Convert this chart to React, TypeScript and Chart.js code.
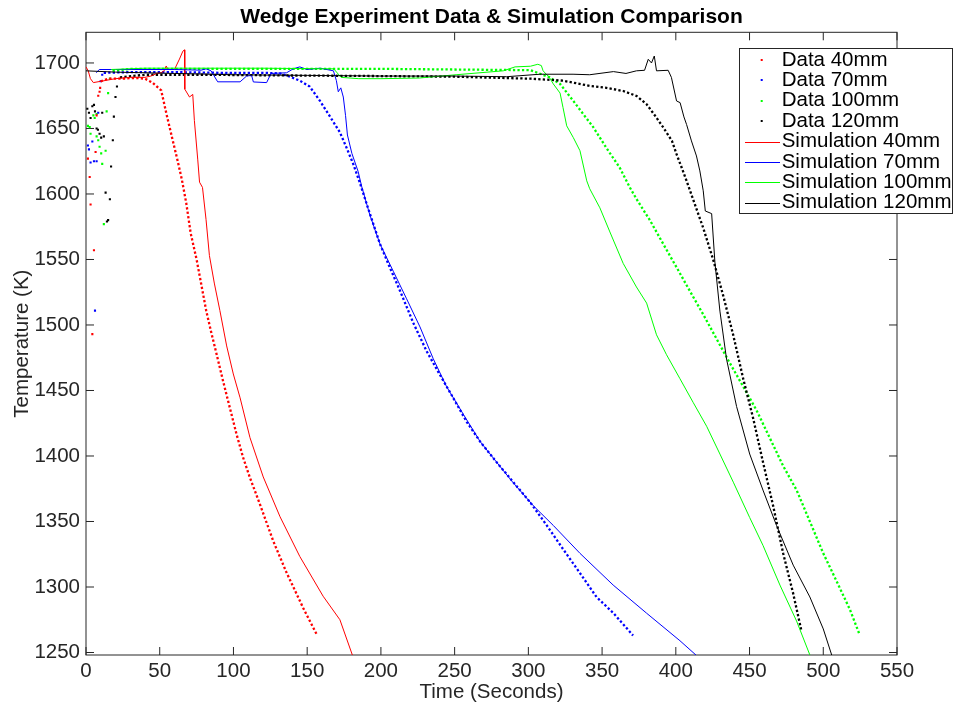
import React, { useEffect, useRef } from 'react';
import { Chart, registerables } from 'chart.js';

Chart.register(...registerables);

// ---- data (time s, temperature K) ----
const xTicks = [0, 50, 100, 150, 200, 250, 300, 350, 400, 450, 500, 550];
const yTicks = [1250, 1300, 1350, 1400, 1450, 1500, 1550, 1600, 1650, 1700];

const chartTitle = 'Wedge Experiment Data & Simulation Comparison';
const xTitle = 'Time (Seconds)';
const yTitle = 'Temperature (K)';
const legendLabels = [
  'Data 40mm', 'Data 70mm', 'Data 100mm', 'Data 120mm',
  'Simulation 40mm', 'Simulation 70mm', 'Simulation 100mm', 'Simulation 120mm',
];
const seriesColors = ['#ff0000', '#0000ff', '#00ff00', '#000000'];

const scatter40: [number, number][] = [[1.3,1627],[2.5,1613],[3.1,1592],[4.3,1493],[5.4,1557],[6.5,1632],[7.2,1660],[8.3,1675],[9.2,1678],[9.6,1681]];
const scatter70: [number, number][] = [[1.3,1637],[2,1634],[3.1,1624],[4.3,1640],[5.4,1625],[6.1,1511],[7.2,1625],[8.3,1662],[9.9,1686],[11,1691]];
const scatter100: [number, number][] = [[1.3,1652],[2.5,1651],[3.1,1646],[5,1660],[5.9,1658],[7.2,1661],[7.2,1644],[8.3,1641],[9.2,1636],[10.3,1631],[11,1623],[12.1,1577],[13.3,1633],[14,1663],[15,1677],[16.2,1688]];
const scatter120: [number, number][] = [[0.9,1665],[2,1662],[3.1,1658],[4.3,1667],[5.4,1668],[6.1,1663],[7.2,1650],[8.1,1649],[9.2,1646],[10.3,1643],[11,1662],[12.1,1644],[13.3,1601],[14.2,1579],[15,1580],[16.2,1596],[17,1621],[18.2,1641],[18.9,1659],[20,1674],[21,1682]];

const data40: [number, number][] = [[10,1686],[15,1688],[20,1688],[25,1688],[30,1688.5],[35,1688.5],[40,1688],[45,1685],[49,1681],[51,1679],[55,1659],[59,1640],[62,1626],[65,1611],[68,1593],[71,1570],[75,1550],[78,1532],[81.5,1511],[85,1494],[88.5,1478],[93,1457],[97.5,1437],[102,1417],[106.5,1399],[111,1384],[118,1363],[127,1335],[136,1311],[147.3,1284],[156.4,1264]];
const data70: [number, number][] = [[12,1692.5],[30,1693],[60,1693],[90,1692.5],[120,1692.5],[131.6,1692],[138.3,1689.5],[145,1686.5],[151.7,1682],[158.7,1671],[165.5,1659],[172.2,1647],[176.8,1635],[181.2,1623],[185.9,1608],[190.3,1592.5],[194.9,1577],[199.3,1562],[206,1544],[213,1526],[222,1501.5],[231,1480],[240,1462],[249.2,1444],[258.2,1426],[267.3,1411],[278.3,1395.5],[289.8,1380],[301,1365],[312.5,1347],[323.5,1329],[335,1310.6],[346.2,1292.4],[357.7,1280],[371,1263]];
const data100: [number, number][] = [[18,1694],[30,1695.5],[60,1695.5],[100,1695.5],[150,1695.5],[200,1695.5],[250,1695],[301.4,1694.5],[314.5,1689],[321.5,1684],[330.5,1671],[337.2,1661],[344,1651],[353,1635],[362,1620],[368.8,1605],[373.4,1596],[382.4,1580],[391.4,1562],[400.5,1544],[409.5,1526],[418.6,1508],[427.6,1489.5],[436.6,1471],[445.7,1453],[454.7,1435],[463.8,1413.6],[472.8,1392.4],[481.9,1374],[490.9,1350],[500,1325.7],[509,1304.5],[518,1283],[524.5,1264]];
const data120: [number, number][] = [[23,1689],[40,1691],[80,1691],[130,1690.5],[200,1690],[250,1689.5],[301.4,1688],[323.5,1686.5],[341.6,1682.5],[353,1681],[364.3,1678.6],[373.4,1674.8],[380.2,1668.5],[386,1659.6],[391.6,1650.6],[397.4,1640.5],[400.5,1630.4],[404,1620],[407.3,1610],[411.7,1596],[418.6,1574],[425.3,1550],[432,1523],[438.9,1492.5],[445.7,1459],[452.4,1429],[459.1,1395.4],[466,1362],[472.8,1325.7],[479.6,1295],[485.3,1266]];

const sim40: [number, number][] = [[0,1697],[1.5,1694],[3,1688],[5,1685],[10,1686],[20,1688],[30,1689],[40,1689],[44,1690],[48,1692],[51,1692.6],[53,1694],[54.4,1697.7],[55.5,1695],[60,1695],[63.4,1703],[65.7,1709],[66.8,1710],[67,1680],[70.2,1674],[72.4,1676],[73.5,1656],[75.8,1626],[77,1609],[79,1605],[81.4,1580.6],[83.7,1553],[87,1532],[90.8,1511],[95.4,1484],[99.9,1462.6],[104.5,1444.4],[111.2,1414],[120.2,1384],[131.6,1353.6],[145,1323.3],[160.8,1293],[172.2,1275],[181.3,1246]];
const sim70: [number, number][] = [[7,1692.5],[9,1695],[20,1695],[40,1695],[60,1695],[78,1694.5],[81.4,1695.5],[84.8,1694],[89.3,1685.6],[104.5,1685.6],[108.9,1690],[112.3,1690.5],[113.5,1685.5],[122.5,1685],[125.5,1692],[136,1692.5],[140.7,1695.6],[145,1697],[149.7,1695],[158.7,1696],[167.8,1694],[169.8,1686.5],[171.1,1678],[172.8,1681],[174.5,1674],[176,1660],[177.3,1645],[180.3,1631],[184.6,1617],[186.9,1606],[192.5,1584],[199.3,1562],[208.4,1541],[217.4,1520],[226.5,1498.5],[235.5,1474.2],[244.5,1453],[255.8,1432],[267.3,1411],[278.3,1395.5],[289.4,1380],[303.4,1362],[316.9,1347],[335,1325.7],[357.5,1301.5],[380.2,1280],[402.8,1259],[416.7,1245]];
const sim100: [number, number][] = [[17,1695],[40,1696],[80,1696],[120,1696],[168,1695.5],[173,1689],[185,1688],[200,1688],[226,1688.5],[251,1691],[283,1694],[291,1697],[301.4,1697.5],[306.4,1699],[308.8,1698],[310,1694],[314.5,1688.5],[316.9,1684],[321.5,1677],[323.5,1666],[326,1652],[330.5,1643],[335,1633],[339.6,1610],[341.6,1604],[348.5,1589.4],[355.3,1571],[364.3,1547],[373.3,1529],[380.2,1516.7],[386.9,1492.5],[393.7,1477.3],[402.8,1459],[411.7,1441],[420.9,1422.7],[429.9,1401.5],[439,1380],[450.1,1353],[459.1,1331.8],[470.6,1301.5],[481.9,1274],[492,1245]];
const sim120: [number, number][] = [[0,1694],[20,1693],[60,1692],[100,1691],[150,1690.5],[200,1690],[250,1690],[285.3,1689.5],[307.8,1691.4],[330.3,1691.4],[341.6,1691],[357.7,1693.4],[366.2,1692],[373.3,1694],[378.8,1694.4],[381.3,1702.8],[383.5,1700],[385.4,1705.3],[386.9,1694],[394.8,1694.4],[397,1689],[400.5,1671],[402.9,1669.7],[405.5,1658.8],[407.3,1653],[410.6,1640.5],[414,1629],[416.3,1617.6],[418.6,1602.4],[420,1587],[424.3,1585],[426.5,1548],[429.9,1510.6],[434.4,1474],[441.2,1437.8],[450.1,1401.5],[459.1,1374],[468.3,1347],[479.6,1316.7],[490.9,1292.4],[500,1268],[506.6,1245]];

const toXY = (a: [number, number][]) => a.map(([x, y]) => ({ x, y }));

const FONT = "'Liberation Sans', Arial, Helvetica, sans-serif";
const FS = 20.5;
const W = 956;
const H = 706;

export default function App() {
  const ref = useRef<HTMLCanvasElement | null>(null);

  useEffect(() => {
    const canvas = ref.current;
    if (!canvas) return;

    const TL = 8;
    const frame = {
      id: 'frame',
      beforeDatasetsDraw(chart: any) {
        const { ctx, chartArea: a, scales } = chart;
        ctx.save();
        ctx.strokeStyle = '#262626';
        ctx.lineWidth = 1;
        ctx.beginPath();
        for (const v of xTicks) {
          const px = scales.x.getPixelForValue(v);
          ctx.moveTo(px, a.bottom); ctx.lineTo(px, a.bottom - TL);
          ctx.moveTo(px, a.top); ctx.lineTo(px, a.top + TL);
        }
        for (const v of yTicks) {
          const py = scales.y.getPixelForValue(v);
          ctx.moveTo(a.left, py); ctx.lineTo(a.left + TL, py);
          ctx.moveTo(a.right, py); ctx.lineTo(a.right - TL, py);
        }
        ctx.stroke();
        ctx.strokeRect(a.left, a.top, a.right - a.left, a.bottom - a.top);
        ctx.restore();
      },
    };

    const legendBox = {
      id: 'legendBox',
      afterDraw(chart: any) {
        const { ctx } = chart;
        const bx = 739.5, by = 48.5, bw = 213, bh = 165;
        ctx.save();
        ctx.fillStyle = '#ffffff';
        ctx.fillRect(bx, by, bw, bh);
        ctx.strokeStyle = '#262626';
        ctx.lineWidth = 1;
        ctx.strokeRect(bx, by, bw, bh);
        ctx.font = `${FS}px ${FONT}`;
        ctx.textBaseline = 'middle';
        ctx.textAlign = 'left';
        legendLabels.forEach((label, i) => {
          const y = 60 + i * 20.4;
          const color = seriesColors[i % 4];
          if (i < 4) {
            ctx.fillStyle = color;
            ctx.fillRect(760.7, Math.round(y) - 1, 2, 2);
          } else {
            ctx.strokeStyle = color;
            ctx.beginPath();
            ctx.moveTo(745, Math.round(y) + 0.5);
            ctx.lineTo(780, Math.round(y) + 0.5);
            ctx.stroke();
          }
          ctx.fillStyle = '#000000';
          ctx.fillText(label, 781.7, y);
        });
        ctx.restore();
      },
    };

    const dataSets = [data40, data70, data100, data120];
    const scatterSets = [scatter40, scatter70, scatter100, scatter120];
    const simSets = [sim40, sim70, sim100, sim120];

    const datasets: any[] = [];
    simSets.forEach((s, i) => {
      datasets.push({
        label: legendLabels[4 + i], data: toXY(s), showLine: true,
        borderColor: seriesColors[i], borderWidth: 1, pointRadius: 0,
        tension: 0, fill: false, order: 3 - i,
      });
    });
    dataSets.forEach((s, i) => {
      datasets.push({
        label: legendLabels[i], data: toXY(s), showLine: true,
        borderColor: seriesColors[i], borderWidth: 2.3, borderDash: [2.3, 2.2],
        pointRadius: 0, tension: 0, fill: false, order: 7 - i,
      });
    });
    scatterSets.forEach((s, i) => {
      datasets.push({
        label: legendLabels[i] + ' start', data: toXY(s), showLine: false,
        pointRadius: 1.5, pointStyle: 'rect', backgroundColor: seriesColors[i],
        borderWidth: 0, order: 8,
      });
    });

    const chart = new Chart(canvas, {
      type: 'scatter',
      data: { datasets },
      options: {
        animation: false,
        responsive: false,
        devicePixelRatio: 1,
        events: [],
        layout: { padding: { left: 0, right: 59, top: 0, bottom: 0 } },
        plugins: {
          legend: { display: false },
          tooltip: { enabled: false },
          title: {
            display: true, text: chartTitle, fullSize: false, color: '#000000',
            font: { family: FONT, size: 21, weight: 'bold' },
            padding: { top: 4.5, bottom: 2.6 },
          },
        },
        scales: {
          x: {
            type: 'linear', min: 0, max: 550,
            afterBuildTicks: (s: any) => { s.ticks = xTicks.map((v) => ({ value: v })); },
            afterFit: (s: any) => { s.height = 51; },
            grid: { display: false, drawTicks: false, tickLength: 0 },
            border: { display: false },
            ticks: {
              color: '#262626', font: { family: FONT, size: FS }, padding: 4.5,
              maxRotation: 0, autoSkip: false, callback: (v: any) => String(v),
            },
            title: {
              display: true, text: xTitle, color: '#262626',
              font: { family: FONT, size: FS }, padding: { top: 0, bottom: 1 },
            },
          },
          y: {
            type: 'linear', min: 1248.1, max: 1723.4,
            afterBuildTicks: (s: any) => { s.ticks = yTicks.map((v) => ({ value: v })); },
            afterFit: (s: any) => { s.width = 86; },
            grid: { display: false, drawTicks: false, tickLength: 0 },
            border: { display: false },
            ticks: {
              color: '#262626', font: { family: FONT, size: FS }, padding: 6,
              autoSkip: false, callback: (v: any) => String(v),
            },
            title: {
              display: true, text: yTitle, color: '#262626',
              font: { family: FONT, size: FS }, padding: { top: 10.5, bottom: 0 },
            },
          },
        },
      } as any,
      plugins: [frame, legendBox],
    });

    return () => chart.destroy();
  }, []);

  return (
    <div style={{ position: 'fixed', left: 0, top: 0, width: W, height: H, background: '#ffffff' }}>
      <canvas ref={ref} width={W} height={H} style={{ width: `${W}px`, height: `${H}px`, display: 'block' }} />
    </div>
  );
}
